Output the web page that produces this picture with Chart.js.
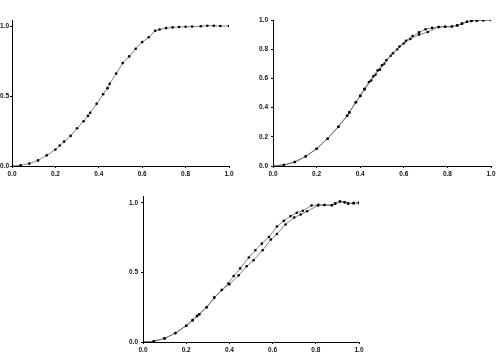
<!DOCTYPE html>
<html>
<head>
<meta charset="utf-8">
<script src="https://cdn.jsdelivr.net/npm/chart.js@4/dist/chart.umd.min.js"></script>
<style>
    body { margin: 0; background: #fff; }
    .box { position: absolute; }
</style>
</head>
<body>
<div class="box" style="left:0px;top:0px;"><canvas id="chart1" width="240" height="180"></canvas></div>
<div class="box" style="left:255px;top:0px;"><canvas id="chart2" width="243" height="180"></canvas></div>
<div class="box" style="left:125px;top:190px;"><canvas id="chart3" width="250" height="166"></canvas></div>
<script>
// tick labels
var xTicks = [0, 0.2, 0.4, 0.6, 0.8, 1.0];
var yTicksHalf = [0, 0.5, 1.0];
var yTicksFifth = [0, 0.2, 0.4, 0.6, 0.8, 1.0];

// top left: one curve
var x1 = [0, 0.04, 0.08, 0.12, 0.16, 0.20, 0.22, 0.24, 0.27, 0.30, 0.33, 0.35, 0.36, 0.39, 0.42, 0.44, 0.45, 0.48, 0.51, 0.54, 0.57, 0.60, 0.63, 0.66, 0.68, 0.71, 0.74, 0.77, 0.80, 0.83, 0.87, 0.90, 0.93, 0.96, 1.0];
var y1 = [0, 0.005, 0.017, 0.04, 0.076, 0.117, 0.146, 0.174, 0.215, 0.27, 0.32, 0.358, 0.38, 0.444, 0.513, 0.556, 0.587, 0.66, 0.735, 0.783, 0.838, 0.885, 0.92, 0.966, 0.975, 0.985, 0.99, 0.993, 0.995, 0.996, 0.998, 1.002, 1.002, 1.0, 1.0];

// top right: two curves
var x2a = [0, 0.05, 0.10, 0.15, 0.20, 0.25, 0.30, 0.34, 0.35, 0.38, 0.40, 0.42, 0.44, 0.46, 0.48, 0.50, 0.52, 0.55, 0.58, 0.61, 0.64, 0.67, 0.70, 0.73, 0.76, 0.79, 0.82, 0.845, 0.867, 0.89, 0.91, 0.935, 0.965, 1.0];
var y2a = [0, 0.007, 0.027, 0.066, 0.118, 0.187, 0.269, 0.344, 0.367, 0.437, 0.48, 0.528, 0.575, 0.615, 0.655, 0.69, 0.725, 0.772, 0.818, 0.858, 0.89, 0.915, 0.937, 0.946, 0.952, 0.954, 0.955, 0.963, 0.975, 0.988, 0.993, 0.996, 0.998, 1.0];
var x2b = [0, 0.05, 0.10, 0.15, 0.20, 0.25, 0.30, 0.34, 0.35, 0.38, 0.40, 0.42, 0.45, 0.47, 0.49, 0.51, 0.54, 0.57, 0.60, 0.63, 0.67, 0.71, 0.76, 0.79, 0.82, 0.845, 0.867, 0.89, 0.91, 0.935, 0.965, 1.0];
var y2b = [0, 0.007, 0.027, 0.066, 0.118, 0.187, 0.269, 0.344, 0.367, 0.437, 0.48, 0.525, 0.585, 0.625, 0.66, 0.70, 0.755, 0.80, 0.84, 0.87, 0.90, 0.918, 0.952, 0.954, 0.955, 0.963, 0.975, 0.988, 0.993, 0.996, 0.998, 1.0];

// bottom: two curves
var x3a = [0, 0.05, 0.10, 0.15, 0.20, 0.23, 0.25, 0.26, 0.295, 0.33, 0.365, 0.395, 0.42, 0.45, 0.49, 0.52, 0.55, 0.583, 0.62, 0.652, 0.683, 0.712, 0.74, 0.78, 0.812, 0.84, 0.874, 0.89, 0.912, 0.934, 0.95, 0.975, 1.0];
var y3a = [0, 0.005, 0.026, 0.064, 0.117, 0.157, 0.186, 0.2, 0.25, 0.319, 0.374, 0.421, 0.474, 0.529, 0.607, 0.66, 0.707, 0.755, 0.83, 0.871, 0.905, 0.929, 0.943, 0.981, 0.986, 0.985, 0.983, 0.995, 1.01, 1.005, 0.995, 0.998, 1.0];
var x3b = [0, 0.05, 0.10, 0.15, 0.20, 0.23, 0.25, 0.26, 0.295, 0.33, 0.365, 0.40, 0.443, 0.48, 0.512, 0.554, 0.592, 0.62, 0.66, 0.70, 0.73, 0.76, 0.81, 0.84, 0.874, 0.89, 0.912, 0.934, 0.95, 0.975, 1.0];
var y3b = [0, 0.005, 0.026, 0.064, 0.117, 0.157, 0.186, 0.2, 0.25, 0.319, 0.374, 0.415, 0.479, 0.545, 0.588, 0.66, 0.736, 0.776, 0.845, 0.895, 0.917, 0.94, 0.981, 0.985, 0.983, 0.995, 1.01, 1.005, 0.995, 0.998, 1.0];

function toPoints(xs, ys) {
    var pts = [];
    for (var i = 0; i < xs.length; i++) {
        pts.push({x: xs[i], y: ys[i]});
    }
    return pts;
}

function makeSet(xs, ys) {
    return {
        data: toPoints(xs, ys),
        showLine: true,
        borderColor: '#666',
        borderWidth: 0.8,
        pointBackgroundColor: '#000',
        pointBorderColor: '#000',
        pointRadius: 1.3,
        pointBorderWidth: 0
    };
}

function axis(ticks, min, max, isY, size, pad) {
    return {
        type: 'linear',
        min: min,
        max: max,
        border: { display: true, color: '#000', width: 1 },
        grid: { drawOnChartArea: false, drawTicks: true, tickLength: 2, tickColor: '#000' },
        afterBuildTicks: function (scale) {
            scale.ticks = ticks.map(function (v) { return {value: v}; });
        },
        afterFit: function (scale) {
            if (isY) { scale.width = size; } else { scale.height = size; }
        },
        ticks: {
            padding: pad,
            color: '#111',
            font: { family: 'Liberation Sans, Arial', size: 6.5, weight: 'bold' },
            maxRotation: 0,
            autoSkip: false,
            callback: function (v) { return v.toFixed(1); }
        }
    };
}

function getConfig(sets, yTicks, yMax, yWidth, yPad, pad) {
    return {
        type: 'scatter',
        data: { datasets: sets },
        options: {
            responsive: false,
            animation: false,
            layout: { padding: pad },
            plugins: { legend: { display: false }, tooltip: { enabled: false } },
            scales: {
                x: axis(xTicks, 0, 1, false, 14, 2),
                y: axis(yTicks, 0, yMax, true, yWidth, yPad)
            }
        }
    };
}

new Chart(document.getElementById('chart1'), getConfig(
    [makeSet(x1, y1)], yTicksHalf, 1.043, 12, 1, {top: 20, right: 11, left: 0, bottom: 0}));
new Chart(document.getElementById('chart2'), getConfig(
    [makeSet(x2a, y2a), makeSet(x2b, y2b)], yTicksFifth, 1.0, 18, 3, {top: 20, right: 7, left: 0, bottom: 0}));
new Chart(document.getElementById('chart3'), getConfig(
    [makeSet(x3a, y3a), makeSet(x3b, y3b)], yTicksHalf, 1.043, 18, 3, {top: 6, right: 16, left: 0, bottom: 0}));
</script>
</body>
</html>
